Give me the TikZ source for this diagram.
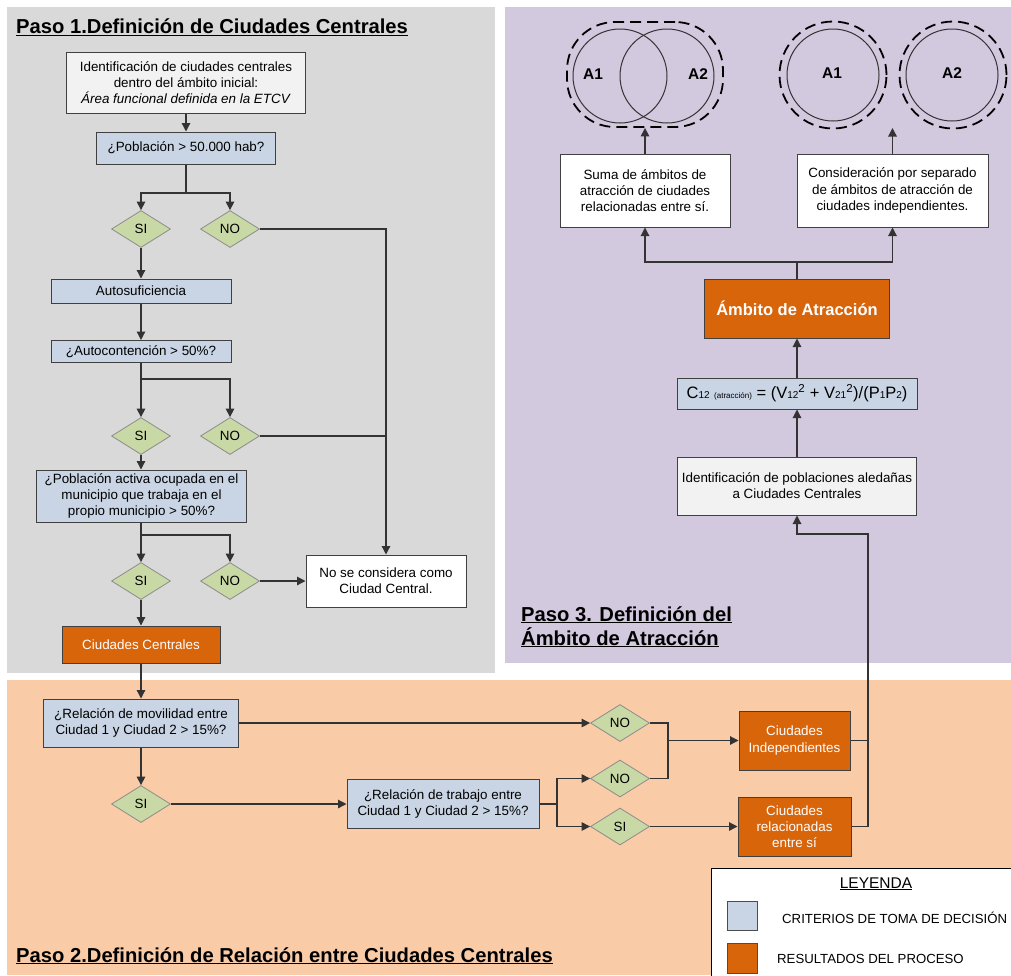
\documentclass[tikz,border=0pt]{standalone}
\usepackage{fontspec}
\setmainfont{Liberation Sans}
\usetikzlibrary{arrows.meta,shapes.geometric,calc}
\definecolor{panelgray}{HTML}{D9D9D9}
\definecolor{panelpurple}{HTML}{D3C9DF}
\definecolor{panelpeach}{HTML}{FACBA7}
\definecolor{qblue}{HTML}{C9D5E5}
\definecolor{decgreen}{HTML}{C9D9A5}
\definecolor{resorange}{HTML}{D9650B}
\definecolor{boxgray}{HTML}{F2F2F2}
\definecolor{linec}{HTML}{333333}
\newcommand\bodyfs{\fontsize{13.4}{16.2}\selectfont}
\newcommand\titlefs{\fontsize{20.2}{24}\selectfont\bfseries}
\newcommand\sbt[1]{{\fontsize{10}{10}\selectfont #1}}
\begin{document}
\begin{tikzpicture}[x=1pt,y=-1pt,
  conn/.style={draw=linec, line width=1.2pt},
  arr/.style={conn, -{Triangle[length=8.5pt,width=8.5pt]}},
  boxbase/.style={draw=black!75, line width=1pt, align=center, inner sep=1pt, font=\bodyfs},
  qbox/.style={boxbase, fill=qblue},
  wbox/.style={boxbase, fill=white},
  lbox/.style={boxbase, fill=boxgray},
  obox/.style={boxbase, fill=resorange, text=white},
  dec/.style={diamond, draw=black!45, line width=0.8pt, fill=decgreen, minimum width=59pt, minimum height=37pt, inner sep=0pt, font=\bodyfs},
  ttl/.style={anchor=base west, inner sep=0pt, font=\titlefs},
  alab/.style={font=\fontsize{15.5}{18}\selectfont\bfseries, inner sep=0pt},
  solidc/.style={circle, draw=linec, line width=1pt, inner sep=0pt},
  dashc/.style={draw=black, line width=1.8pt, dash pattern=on 11pt off 6pt},
  legtxt/.style={anchor=base west, inner sep=0pt, font=\fontsize{13.2}{15}\selectfont}
]
\useasboundingbox (0,0) rectangle (1011,975);
\clip (0,0) rectangle (1011,975);
% panels
\fill[white] (0,0) rectangle (1011,975);
\fill[panelgray] (7,7) rectangle (495,673);
\fill[panelpurple] (505,7) rectangle (1011,663);
\fill[panelpeach] (7,680) rectangle (1011,975);

% ---------------- Paso 1 ----------------
\node[ttl] (t1) at (16,33.5) {\underline{Paso 1.Definición de Ciudades Centrales}};
\node[lbox, minimum width=239pt, minimum height=61pt] (b1) at (186,82.5)
  {Identificación de ciudades centrales\\dentro del ámbito inicial:\\\textit{Área funcional definida en la ETCV}};
\node[qbox, minimum width=179pt, minimum height=32pt] (pob) at (186,148) {¿Población > 50.000 hab?};
\node[dec] (si1) at (141,229) {SI};
\node[dec] (no1) at (230,229) {NO};
\node[qbox, minimum width=180pt, minimum height=24pt] (auto) at (141,291) {Autosuficiencia};
\node[qbox, minimum width=180pt, minimum height=22pt] (autoc) at (141,351.5) {¿Autocontención > 50\%?};
\node[dec] (si2) at (141,436) {SI};
\node[dec] (no2) at (230,436) {NO};
\node[qbox, minimum width=210pt, minimum height=52pt] (pa) at (141.5,496)
  {¿Población activa ocupada en el\\municipio que trabaja en el\\propio municipio > 50\%?};
\node[dec] (si3) at (141,581) {SI};
\node[dec] (no3) at (230,581) {NO};
\node[wbox, minimum width=160pt, minimum height=52pt] (noc) at (386,581) {No se considera como\\Ciudad Central.};
\node[obox, minimum width=158pt, minimum height=37pt] (cc) at (141,644.5) {Ciudades Centrales};

\draw[arr] (b1.south) -- (pob.north);
\coordinate (j1) at (186,193);
\draw[conn] (pob.south) -- (j1);
\draw[arr] (j1) -| (si1.north);
\draw[arr] (j1) -| (no1.north);
\draw[arr] (no1.east) -| (noc.north);
\draw[arr] (si1.south) -- (auto.north);
\draw[arr] (auto.south) -- (autoc.north);
\coordinate (j2) at (141,379);
\draw[arr] (autoc.south) -- (si2.north);
\draw[arr] (j2) -| (no2.north);
\draw[conn] (no2.east) -- (no2.east -| noc.north);
\draw[arr] (si2.south) -- (pa.north -| si2.south);
\coordinate (j3) at (141,535);
\draw[arr] (pa.south -| si3.north) -- (si3.north);
\draw[arr] (j3) -| (no3.north);
\draw[arr] (no3.east) -- (noc.west);
\draw[arr] (si3.south) -- (cc.north);

% ---------------- Paso 2 ----------------
\node[ttl] (t2) at (16,962) {\underline{Paso 2.Definición de Relación entre Ciudades Centrales}};
\node[qbox, minimum width=195pt, minimum height=48pt] (mov) at (141,723) {¿Relación de movilidad entre\\Ciudad 1 y Ciudad 2 > 15\%?};
\node[dec] (si4) at (141,804) {SI};
\node[qbox, minimum width=192pt, minimum height=49pt] (trab) at (443,804) {¿Relación de trabajo entre\\Ciudad 1 y Ciudad 2 > 15\%?};
\node[dec] (no4) at (620,723) {NO};
\node[dec] (no5) at (620,778.5) {NO};
\node[dec] (si5) at (620,826.5) {SI};
\node[obox, minimum width=111pt, minimum height=59pt] (ind) at (794.5,740.5) {Ciudades\\Independientes};
\node[obox, minimum width=113pt, minimum height=59pt] (rel) at (794.5,826.5) {Ciudades\\relacionadas\\entre sí};

\draw[arr] (cc.south) -- (mov.north);
\draw[arr] (mov.east) -- (no4.west);
\draw[arr] (mov.south) -- (si4.north);
\draw[arr] (si4.east) -- (trab.west);
\coordinate (j4) at (557,804);
\draw[conn] (trab.east) -- (j4);
\draw[arr] (j4) |- (no5.west);
\draw[arr] (j4) |- (si5.west);
\coordinate (j5) at (668,740.5);
\draw[conn] (no4.east) -| (j5);
\draw[conn] (no5.east) -| (j5);
\draw[arr] (j5) -- (ind.west);
\draw[arr] (si5.east) -- (rel.west);

% ---------------- Paso 3 ----------------
\node[ttl] (t3a) at (521,621) {\underline{Paso 3. Definición del}};
\node[ttl] (t3b) at (521,645) {\underline{Ámbito de Atracción}};
\node[lbox, minimum width=239pt, minimum height=58pt] (idp) at (797,486) {Identificación de poblaciones aledañas\\a Ciudades Centrales};
\node[qbox, minimum width=240pt, minimum height=31pt, font=\fontsize{16.5}{18}\selectfont] (form) at (797,393.5)
  {C\sbt{12} {\fontsize{8}{9}\selectfont (atracción)} = (V\sbt{12}\textsuperscript{2} + V\sbt{21}\textsuperscript{2})/(P\sbt{1}P\sbt{2})};
\node[obox, minimum width=185pt, minimum height=59pt, font=\fontsize{16.5}{20}\selectfont\bfseries] (amb) at (797,308.5) {Ámbito de Atracción};
\node[wbox, minimum width=170pt, minimum height=73pt] (suma) at (645,190.5) {Suma de ámbitos de\\atracción de ciudades\\relacionadas entre sí.};
\node[wbox, minimum width=191pt, minimum height=73pt] (cons) at (892.5,190.5) {Consideración por separado\\de ámbitos de atracción de\\ciudades independientes.};

% circles
\node[solidc, minimum size=94pt] (cl1) at (620,76) {};
\node[solidc, minimum size=94pt] (cl2) at (667,76) {};
\node[draw=black, line width=1.8pt, dash pattern=on 11pt off 6pt, rounded corners=48pt,
      minimum width=156pt, minimum height=105pt, inner sep=0pt] (vennL) at (645,74.5) {};
\node[alab] (la1) at (593,74) {A1};
\node[alab] (la2) at (698,74) {A2};
\node[solidc, minimum size=92pt] (cr1) at (833,75) {};
\node[solidc, minimum size=92pt] (cr2) at (952,75) {};
\node[circle, dashc, minimum size=107pt, inner sep=0pt] (dr1) at (833,75) {};
\node[circle, dashc, minimum size=107pt, inner sep=0pt] (dr2) at (953,75) {};
\node[alab] (ra1) at (832,73) {A1};
\node[alab] (ra2) at (952,73) {A2};
\coordinate (gapR) at (892.5,128);

\draw[arr] (idp.north) -- (form.south);
\draw[arr] (form.north) -- (amb.south);
\coordinate (j7) at (797,262);
\draw[conn] (amb.north) -- (j7);
\draw[arr] (j7) -| (suma.south);
\draw[arr] (j7) -| (cons.south);
\draw[arr] (suma.north) -- (vennL.south);
\draw[arr] (cons.north) -- (gapR);

\coordinate (j6) at (868,534);
\draw[conn] (ind.east) -- (ind.east -| j6);
\draw[arr] (rel.east) -| (j6) -| (idp.south);

% ---------------- Legend ----------------
\node[draw=black, line width=1pt, fill=white, minimum width=320pt, minimum height=120pt, anchor=north west, inner sep=0pt] (leg) at (711,868) {};
\node[anchor=base, inner sep=0pt, font=\fontsize{15.5}{18}\selectfont] (legt) at (876,888) {\underline{LEYENDA}};
\node[draw=black!70, line width=1pt, fill=qblue, minimum width=30pt, minimum height=29pt, inner sep=0pt] (lq) at (742,915.5) {};
\node[draw=black!70, line width=1pt, fill=resorange, minimum width=30pt, minimum height=30pt, inner sep=0pt] (lo) at (742,958) {};
\node[legtxt] (lqt) at (782,923) {CRITERIOS DE TOMA DE DECISIÓN};
\node[legtxt] (lot) at (777,963) {RESULTADOS DEL PROCESO};
\end{tikzpicture}
\end{document}
